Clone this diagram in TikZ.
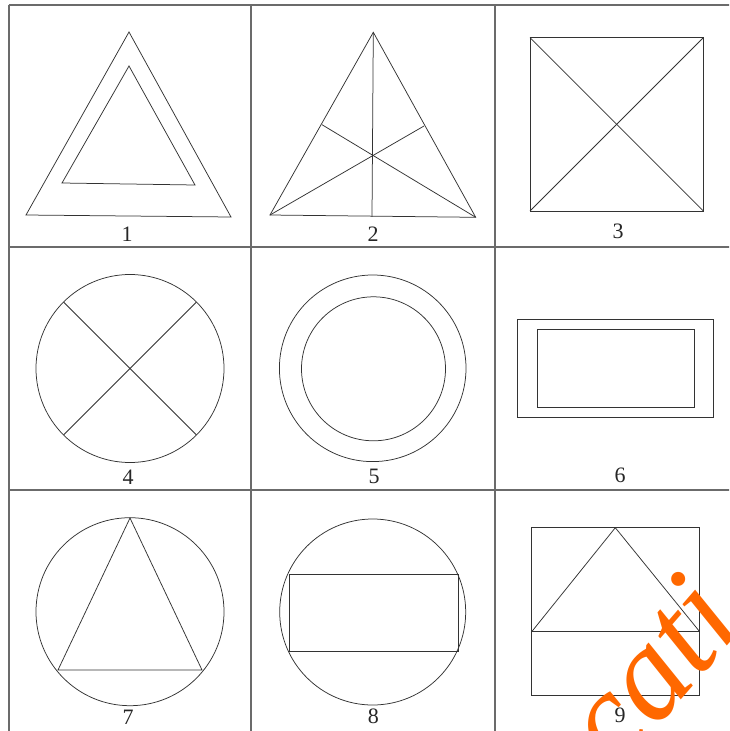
\documentclass[tikz,border=0pt]{standalone}
\usepackage{fontspec}
\setmainfont{Liberation Serif}
\usetikzlibrary{calc}
\definecolor{wmorange}{RGB}{255,104,0}
\begin{document}
\begin{tikzpicture}[x=1pt,y=-1pt,
  fig/.style={line width=0.75pt, draw=black!80},
  gridline/.style={line width=2pt, draw=black!58},
  lbl/.style={inner sep=0pt, font=\fontsize{22}{22}\selectfont, text=black!85},
  wm/.style={inner sep=0pt, text=wmorange, font=\fontsize{132}{132}\selectfont\itshape}]
\useasboundingbox (0,0) rectangle (729,731);
\fill[white] (0,0) rectangle (729,731);
\begin{scope}
\clip (0,0) rectangle (729,731);
% grid
\foreach \gx in {8.5,251,494.5} \draw[gridline] (\gx,4.5) -- (\gx,740);
\foreach \gy in {4.5,246.5,489.5} \draw[gridline] (8.5,\gy) -- (740,\gy);

% 1: two triangles
\draw[fig] (129,32) -- (26,215) -- (231,217) -- cycle;
\draw[fig] (129,66) -- (62,183) -- (195,185) -- cycle;
\node[lbl] (l1) at (127,234) {1};

% 2: triangle with medians
\coordinate (A2) at (373.3,32.3);
\coordinate (B2) at (270,215);
\coordinate (C2) at (475.7,217.3);
\coordinate (MA) at (372,216.8);
\coordinate (MB) at (424,126);
\coordinate (MC) at (322,124.7);
\draw[fig] (A2) -- (B2) -- (C2) -- cycle;
\draw[fig] (A2) -- (MA);
\draw[fig] (B2) -- (MB);
\draw[fig] (C2) -- (MC);
\node[lbl] (l2) at (373,234) {2};

% 3: square with diagonals
\draw[fig] (530,37.7) rectangle (703.3,211);
\draw[fig] (530,37.7) -- (703.3,211);
\draw[fig] (530,211) -- (703.3,37.7);
\node[lbl] (l3) at (618,231.5) {3};

% 4: circle with X
\coordinate (O4) at (130,368.5);
\draw[fig] (O4) circle[radius=94];
\draw[fig] ($(O4)+(135:94)$) -- ($(O4)+(-45:94)$);
\draw[fig] ($(O4)+(45:94)$) -- ($(O4)+(-135:94)$);
\node[lbl] (l4) at (128,477) {4};

% 5: concentric circles
\draw[fig] (372.7,368.3) circle[radius=93.3];
\draw[fig] (373.5,368.8) circle[radius=72];
\node[lbl] (l5) at (374,476.5) {5};

% 6: two rectangles
\draw[fig] (517.7,319.3) rectangle (713.7,417.7);
\draw[fig] (537.7,329.3) rectangle (694,407.3);
\node[lbl] (l6) at (620,475) {6};

% 7: circle with triangle
\draw[fig] (130,611.7) circle[radius=94];
\draw[fig] (130,518) -- (58,670) -- (202,670) -- cycle;
\node[lbl] (l7) at (128,717) {7};

% 8: circle with rectangle
\draw[fig] (372.7,612) circle[radius=93];
\draw[fig] (289.3,574) rectangle (458.3,651.7);
\node[lbl] (l8) at (373.3,716.5) {8};

% 9: rectangle, line, triangle
\draw[fig] (531.7,527.7) rectangle (699.7,695.7);
\draw[fig] (531.7,631.7) -- (699.7,631.7);
\draw[fig] (531.7,631.7) -- (615.3,527.7) -- (699.7,631.7);
\node[lbl] (l9) at (620,715) {9};

% watermark
\node[wm, rotate=49] (wmk) at (649.6,670.5) {cati};
\end{scope}
\end{tikzpicture}
\end{document}
